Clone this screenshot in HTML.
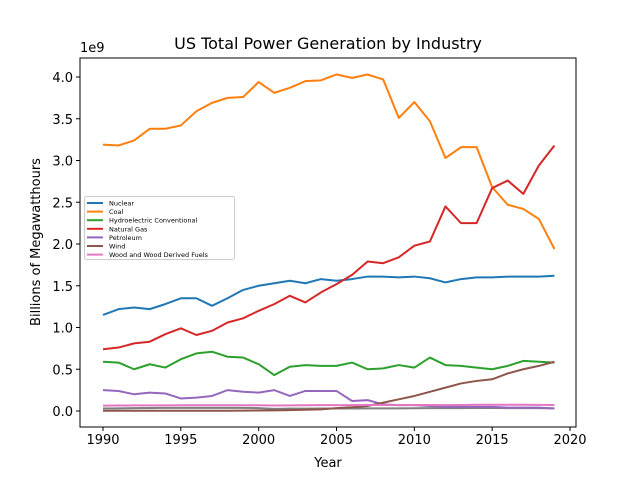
<!DOCTYPE html>
<html><head><meta charset="utf-8"><style>
body{margin:0;background:#fff}
svg text{font-family:"DejaVu Sans","Liberation Sans",sans-serif}
</style></head><body>
<svg id="chart" width="640" height="480">
<text x="328" y="49" font-size="16" text-anchor="middle">US Total Power Generation by Industry</text>
<text x="328" y="467" font-size="13" text-anchor="middle">Year</text>
<text x="40" y="242" font-size="13" text-anchor="middle" transform="rotate(-90 40 242)">Billions of Megawatthours</text>
<text x="80" y="52" font-size="13">1e9</text>
<g id="plot"></g>
</svg>
<script>
const years=[1990,1991,1992,1993,1994,1995,1996,1997,1998,1999,2000,2001,2002,2003,2004,2005,2006,2007,2008,2009,2010,2011,2012,2013,2014,2015,2016,2017,2018,2019];
const nuclear=[1.15,1.22,1.24,1.22,1.28,1.35,1.35,1.26,1.35,1.45,1.50,1.53,1.56,1.53,1.58,1.56,1.58,1.61,1.61,1.60,1.61,1.59,1.54,1.58,1.60,1.60,1.61,1.61,1.61,1.62];
const coal=[3.19,3.18,3.24,3.38,3.38,3.42,3.59,3.69,3.75,3.76,3.94,3.81,3.87,3.95,3.96,4.03,3.99,4.03,3.97,3.51,3.70,3.47,3.03,3.16,3.16,2.68,2.47,2.42,2.30,1.94];
const hydro=[0.59,0.58,0.50,0.56,0.52,0.62,0.69,0.71,0.65,0.64,0.56,0.43,0.53,0.55,0.54,0.54,0.58,0.50,0.51,0.55,0.52,0.64,0.55,0.54,0.52,0.50,0.54,0.60,0.59,0.58];
const gas=[0.74,0.76,0.81,0.83,0.92,0.99,0.91,0.96,1.06,1.11,1.20,1.28,1.38,1.30,1.42,1.52,1.63,1.79,1.77,1.84,1.98,2.03,2.45,2.25,2.25,2.67,2.76,2.60,2.94,3.18];
const petroleum=[0.25,0.24,0.20,0.22,0.21,0.15,0.16,0.18,0.25,0.23,0.22,0.25,0.18,0.24,0.24,0.24,0.12,0.13,0.08,0.07,0.07,0.06,0.05,0.05,0.05,0.05,0.04,0.04,0.04,0.03];
const wind=[0.003,0.003,0.003,0.003,0.003,0.003,0.003,0.003,0.003,0.004,0.006,0.007,0.01,0.015,0.02,0.035,0.045,0.06,0.10,0.14,0.18,0.23,0.28,0.33,0.36,0.38,0.45,0.50,0.54,0.59];
const wood=[0.065,0.066,0.067,0.068,0.068,0.069,0.069,0.069,0.069,0.069,0.069,0.066,0.068,0.069,0.070,0.071,0.071,0.072,0.072,0.071,0.072,0.072,0.071,0.072,0.075,0.075,0.075,0.075,0.074,0.072];
const other=[0.03,0.032,0.034,0.036,0.037,0.038,0.038,0.038,0.038,0.038,0.035,0.025,0.028,0.028,0.03,0.03,0.03,0.032,0.032,0.032,0.033,0.034,0.034,0.035,0.036,0.036,0.035,0.035,0.034,0.032];
const seriesNames=["Nuclear","Coal","Hydroelectric Conventional","Natural Gas","Petroleum","Wind","Wood and Wood Derived Fuels"];
const xTicks=[1990,1995,2000,2005,2010,2015,2020];
const yTicks=[0,0.5,1,1.5,2,2.5,3,3.5,4];
const colors=["#1f77b4","#ff7f0e","#2ca02c","#d62728","#9467bd","#8c564b","#e377c2"];
const X=y=>103+(y-1990)*(570-103)/30;
const Y=v=>411-v*83.5;
const NS="http://www.w3.org/2000/svg";
const g=document.getElementById('plot');
function mk(t,a,p){const e=document.createElementNS(NS,t);for(const k in a)e.setAttribute(k,a[k]);(p||g).appendChild(e);return e;}
const L=80,R=576,T=58,B=427;
xTicks.forEach(t=>{mk('line',{x1:X(t),x2:X(t),y1:B,y2:B+4,stroke:'#000'});
 const tx=mk('text',{x:X(t),y:B+17,'font-size':13,'text-anchor':'middle'});tx.textContent=t;
 
 });
yTicks.forEach(t=>{mk('line',{x1:L-4,x2:L,y1:Y(t),y2:Y(t),stroke:'#000'});
 const tx=mk('text',{x:L-7,y:Y(t)+5,'font-size':13,'text-anchor':'end'});tx.textContent=t.toFixed(1);
 
 });
const all=[nuclear,coal,hydro,gas,petroleum,wind,wood];
const og=mk('polyline',{points:other.map((v,i)=>X(years[i])+','+Y(v)).join(' '),fill:'none',stroke:'#7f7f7f','stroke-width':2});


all.forEach((s,k)=>{const p=mk('polyline',{points:s.map((v,i)=>X(years[i])+','+Y(v)).join(' '),fill:'none',stroke:colors[k],'stroke-width':2,'stroke-linejoin':'round'});
 
 });
const fr=mk('rect',{x:L,y:T,width:R-L,height:B-T,fill:'none',stroke:'#000','stroke-width':1});


const lg=mk('g',{});


mk('rect',{x:84.5,y:196.5,width:150,height:63,fill:'#fff',stroke:'#ccc',rx:2},lg);
seriesNames.forEach((n,k)=>{const y=203+k*8.6;
 mk('line',{x1:87,x2:103,y1:y,y2:y,stroke:colors[k],'stroke-width':2},lg);
 const t=mk('text',{x:109,y:y+2.5,'font-size':6.5},lg);t.textContent=n;
 
 });
</script>
</body></html>
